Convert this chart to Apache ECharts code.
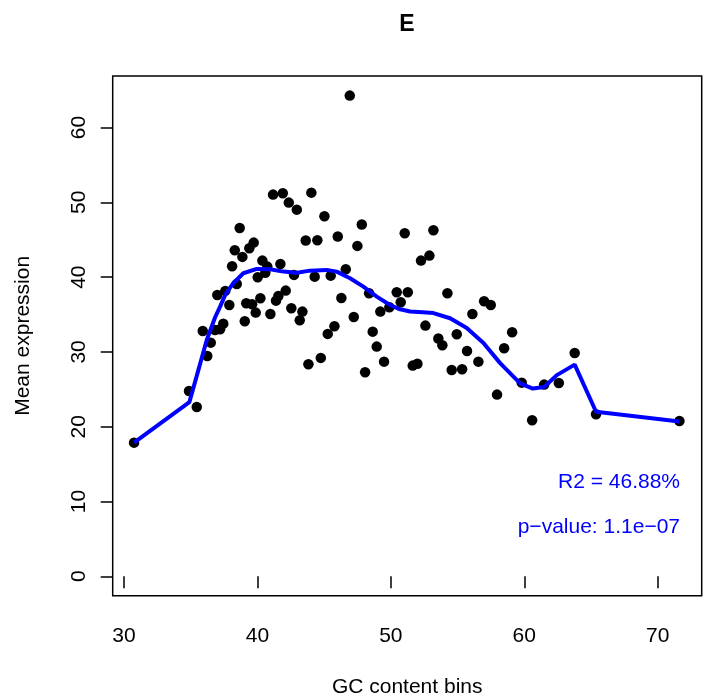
<!DOCTYPE html>
<html>
<head>
<meta charset="utf-8">
<script src="https://cdn.jsdelivr.net/npm/echarts@6/dist/echarts.min.js"></script>
<style>html,body{margin:0;padding:0;background:#fff}#c{width:710px;height:694px}</style>
</head>
<body>
<div id="c"></div>
<script>
// GC content bin (x) and mean expression (y) for each point
const gcBins = [46.92,41.17,41.90,44.04,42.35,42.95,45.02,38.67,47.82,51.04,46.02,43.62,44.49,47.49,39.72,39.39,38.30,38.87,38.10,40.37,40.74,41.72,40.59,40.02,42.74,44.29,45.49,46.62,38.45,37.59,36.99,42.12,48.37,50.44,51.27,37.89,39.16,39.60,40.22,41.39,41.57,39.87,40.97,42.54,43.37,46.29,49.21,49.89,50.74,47.22,39.05,43.17,35.90,37.44,37.20,45.77,45.27,48.64,36.82,36.50,36.24,34.87,35.45,30.75,43.82,44.75,48.94,49.49,48.07,51.64,51.99,53.19,52.89,52.26,54.24,56.99,57.49,56.11,52.59,53.56,53.86,54.94,59.09,55.71,56.56,54.56,55.34,58.49,57.96,59.81,61.49,62.59,63.78,60.59,65.38,71.63];
const meanExpr = [64.28,51.04,51.22,51.30,49.97,49.03,48.15,46.58,47.03,45.87,45.43,44.89,44.94,44.18,44.62,43.87,43.60,42.71,41.46,42.21,41.41,41.77,40.60,39.99,40.30,40.07,40.20,41.06,39.09,38.16,37.62,38.20,37.85,37.98,37.98,36.28,36.51,36.38,37.18,36.86,37.49,35.26,35.08,35.84,35.39,37.22,35.39,35.98,36.65,34.68,34.10,34.24,32.81,33.78,33.03,33.44,32.41,32.71,32.94,31.24,29.46,24.78,22.64,17.87,28.35,29.20,30.71,28.70,27.28,28.17,28.43,46.27,42.88,42.21,37.85,36.78,36.28,35.08,33.52,31.80,30.90,32.37,32.63,30.13,28.70,27.59,27.68,30.49,24.29,25.89,25.63,25.85,29.86,20.86,21.67,20.77];
// fitted curve
const fitX = [30.75,34.90,35.45,36.20,36.82,37.20,37.60,38.19,38.94,39.95,40.94,41.94,42.95,43.94,45.19,45.94,46.94,47.94,48.94,49.94,50.69,51.44,52.40,53.19,54.44,55.69,56.94,58.19,59.69,60.64,61.49,62.44,63.78,65.38,71.63];
const fitY = [17.87,23.30,26.80,31.60,34.60,36.06,37.70,39.19,40.52,41.10,41.06,40.74,40.60,40.87,40.97,40.74,39.85,38.73,37.40,36.28,35.70,35.40,35.30,35.20,34.50,33.20,31.20,28.50,25.80,25.10,25.30,26.90,28.30,22.00,20.70];
const xTicks = [30,40,50,60,70];
const yTicks = [0,10,20,30,40,50,60];
const chartTitle = 'E';
const xName = 'GC content bins';
const yName = 'Mean expression';
const statR2 = 'R2 = 46.88%';
const statP = 'p\u2212value: 1.1e\u221207';

const FONT = '"Liberation Sans", Arial, Helvetica, sans-serif';
const chart = echarts.init(document.getElementById('c'), null, {renderer:'canvas'});
chart.setOption({
  animation:false,
  backgroundColor:'#fff',
  grid:{left:112.7, right:8.3, top:76, bottom:98.3, show:true, borderColor:'#000', borderWidth:1.5, backgroundColor:'transparent', containLabel:false, outerBoundsMode:'none'},
  xAxis:{type:'value', min:29.15, max:73.3,
    axisLine:{show:false},
    axisTick:{show:true, customValues:xTicks, length:12, lineStyle:{color:'#000', width:1.5}},
    axisLabel:{customValues:xTicks, color:'#000', fontFamily:FONT, fontSize:21, margin:30},
    splitLine:{show:false},
    name:xName, nameLocation:'middle', nameGap:81,
    nameTextStyle:{color:'#000', fontFamily:FONT, fontSize:21}
  },
  yAxis:{type:'value', min:-2.6, max:66.9,
    axisLine:{show:false},
    axisTick:{show:true, customValues:yTicks, length:12, lineStyle:{color:'#000', width:1.5}},
    axisLabel:{customValues:yTicks, color:'#000', fontFamily:FONT, fontSize:21, margin:23, rotate:90},
    splitLine:{show:false},
    name:yName, nameLocation:'middle', nameGap:79, nameRotate:90,
    nameTextStyle:{color:'#000', fontFamily:FONT, fontSize:21}
  },
  graphic:[
    {type:'text', x:407, y:25, style:{text:chartTitle, fill:'#000', font:'bold 23px '+FONT, textAlign:'center', textVerticalAlign:'middle'}},
    {type:'text', x:680, y:482, style:{text:statR2, fill:'#0000FF', font:'21px '+FONT, textAlign:'right', textVerticalAlign:'middle'}},
    {type:'text', x:680, y:527, style:{text:statP, fill:'#0000FF', font:'21px '+FONT, textAlign:'right', textVerticalAlign:'middle'}}
  ],
  series:[
    {type:'scatter', data:gcBins.map((x,i)=>[x,meanExpr[i]]), symbol:'circle', symbolSize:10.5, itemStyle:{color:'#000', opacity:1}, z:2},
    {type:'line', data:fitX.map((x,i)=>[x,fitY[i]]), showSymbol:false, symbol:'none', lineStyle:{color:'#0000FF', width:4}, z:3}
  ]
});
</script>
</body>
</html>
